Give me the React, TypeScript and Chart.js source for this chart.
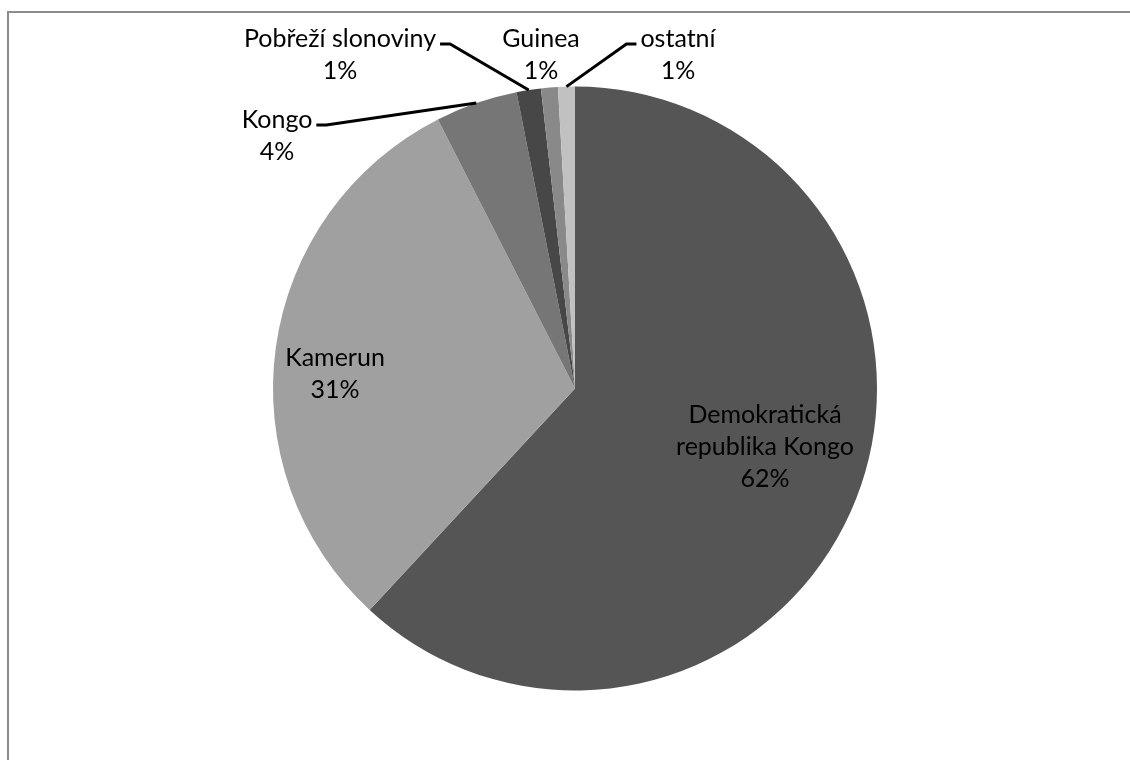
import React, { useEffect, useRef } from 'react';
import { Chart, registerables } from 'chart.js';

Chart.register(...registerables);

// ---- data ----
const categories = [
  'Demokratická republika Kongo',
  'Kamerun',
  'Kongo',
  'Pobřeží slonoviny',
  'Guinea',
  'ostatní',
];
const shares = [61.9, 30.6, 4.4, 1.3, 0.9, 0.9];
const sliceColors = ['#555555', '#a0a0a0', '#767676', '#474747', '#898989', '#c1c1c1'];

// label wrapping (category name lines)
const labelLines = [
  ['Demokratická', 'republika Kongo'],
  ['Kamerun'],
  ['Kongo'],
  ['Pobřeží slonoviny'],
  ['Guinea'],
  ['ostatní'],
];

// label layout: centre x, first baseline y, optional leader side
const labelLayout = [
  { x: 765, y: 423 },
  { x: 335, y: 366 },
  { x: 277, y: 128, leader: 'right' },
  { x: 340, y: 47, leader: 'right' },
  { x: 541, y: 47 },
  { x: 678, y: 47, leader: 'left' },
];

const FONT = '25px Lato, "Open Sans", sans-serif';
const LINE_H = 32;

const labelPlugin = {
  id: 'excelLabels',
  afterDatasetsDraw(chart: any) {
    const ctx = chart.ctx as CanvasRenderingContext2D;
    const meta = chart.getDatasetMeta(0);
    const data = chart.data.datasets[0].data as number[];
    const total = data.reduce((a, b) => a + b, 0);
    ctx.save();
    ctx.font = FONT;
    ctx.fillStyle = '#000';
    ctx.textAlign = 'center';
    ctx.textBaseline = 'alphabetic';
    meta.data.forEach((arc: any, i: number) => {
      const p = arc.getProps(['x', 'y', 'startAngle', 'endAngle', 'outerRadius'], true);
      const lay = labelLayout[i];
      const pct = Math.round((data[i] / total) * 100) + '%';
      const lines = [...labelLines[i], pct];
      lines.forEach((t, k) => ctx.fillText(t, lay.x, lay.y + k * LINE_H));
      if (lay.leader) {
        const mid = (p.startAngle + p.endAngle) / 2;
        const ex = p.x + Math.cos(mid) * p.outerRadius;
        const ey = p.y + Math.sin(mid) * p.outerRadius;
        const w = ctx.measureText(lines[0]).width;
        const right = lay.leader === 'right';
        const sx = right ? lay.x + w / 2 + 4 : lay.x - w / 2 - 4;
        const sy = lay.y - 3;
        const kx = sx + (right ? 10 : -10);
        ctx.beginPath();
        ctx.moveTo(sx, sy);
        ctx.lineTo(kx, sy);
        ctx.lineTo(ex, ey);
        ctx.strokeStyle = '#000';
        ctx.lineWidth = 3;
        ctx.stroke();
      }
    });
    ctx.restore();
  },
};

export default function App() {
  const ref = useRef<HTMLCanvasElement | null>(null);
  useEffect(() => {
    if (!ref.current) return;
    const chart = new Chart(ref.current, {
      type: 'pie',
      data: {
        labels: categories,
        datasets: [
          {
            data: shares,
            backgroundColor: sliceColors,
            borderWidth: 0,
          },
        ],
      },
      options: {
        responsive: false,
        maintainAspectRatio: false,
        animation: false,
        layout: { padding: { top: 86.5, bottom: 69.5, left: 273, right: 253 } },
        plugins: {
          legend: { display: false },
          tooltip: { enabled: false },
        },
      },
      plugins: [labelPlugin],
    });
    return () => chart.destroy();
  }, []);

  return (
    <div style={{ position: 'fixed', left: 0, top: 0, width: 1130, height: 760, overflow: 'hidden', background: '#fff' }}>
      <div
        style={{
          position: 'absolute',
          left: 7,
          top: 11,
          width: 1300,
          height: 900,
          borderTop: '2px solid #8c8c8c',
          borderLeft: '2px solid #8c8c8c',
        }}
      />
      <canvas ref={ref} width={1130} height={760} style={{ position: 'absolute', left: 0, top: 0 }} />
    </div>
  );
}
